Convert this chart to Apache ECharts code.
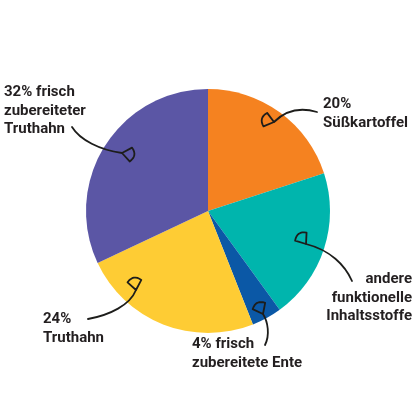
<!DOCTYPE html>
<html>
<head>
<meta charset="utf-8">
<script src="https://cdn.jsdelivr.net/npm/echarts@6/dist/echarts.min.js"></script>
<style>
    html, body { margin: 0; padding: 0; background: #fff; }
    #chart { width: 416px; height: 416px; }
</style>
</head>
<body>
<div id="chart"></div>
<script>
    // data
    var categories = ['20%\nSüßkartoffel', 'andere\nfunktionelle\nInhaltsstoffe', '4% frisch\nzubereitete Ente', '24%\nTruthahn', '32% frisch\nzubereiteter\nTruthahn'];
    var values = [20, 20, 4, 24, 32];
    var colors = ['#F58220', '#00B5AD', '#0B58A6', '#FECC34', '#5B56A5'];

    // label anchors [x, y, align]
    var labelPos = [[323, 95, 'left'], [412, 270, 'right'], [192, 335, 'left'], [43, 310, 'left'], [4, 83, 'left']];

    // hand drawn arrows: start, control 1, control 2, end, head direction (deg)
    var arrows = [
        [[317, 112], [300, 107], [285, 111], [274, 122], 195],
        [[352, 281], [345, 265], [330, 250], [306, 244], 235],
        [[265, 345], [270, 335], [268, 322], [263, 314], 243],
        [[88, 319], [110, 315], [130, 305], [136, 290], 260],
        [[72, 127], [80, 140], [100, 150], [122, 153], 10]
    ];

    // arrow head: apex at line end, fan opening forward with a rounded back
    function headPoints(e, deg) {
        var a = deg * Math.PI / 180;
        var dx = Math.cos(a), dy = Math.sin(a);
        var nx = -dy, ny = dx;
        var L = 9, W = 7;
        var b1 = [e[0] + dx * L + nx * W, e[1] + dy * L + ny * W];
        var b2 = [e[0] + dx * L - nx * W, e[1] + dy * L - ny * W];
        var c = [e[0] + dx * (L + 7), e[1] + dy * (L + 7)];
        var pts = [e.slice()];
        for (var i = 0; i <= 8; i++) {
            var t = i / 8;
            pts.push([
                (1 - t) * (1 - t) * b1[0] + 2 * t * (1 - t) * c[0] + t * t * b2[0],
                (1 - t) * (1 - t) * b1[1] + 2 * t * (1 - t) * c[1] + t * t * b2[1]
            ]);
        }
        pts.push(e.slice());
        return pts;
    }

    var graphics = [];
    arrows.forEach(function (ar) {
        graphics.push({
            type: 'bezierCurve',
            z: 100,
            shape: {x1: ar[0][0], y1: ar[0][1], cpx1: ar[1][0], cpy1: ar[1][1], cpx2: ar[2][0], cpy2: ar[2][1], x2: ar[3][0], y2: ar[3][1]},
            style: {stroke: '#1d1d1b', lineWidth: 1.8, fill: null, lineCap: 'round'}
        });
        graphics.push({
            type: 'polyline',
            z: 100,
            shape: {points: headPoints(ar[3], ar[4])},
            style: {stroke: '#1d1d1b', lineWidth: 1.8, fill: null, lineJoin: 'round'}
        });
    });

    // slice labels
    categories.forEach(function (c, i) {
        var p = labelPos[i];
        graphics.push({
            type: 'text',
            z: 100,
            x: p[0],
            y: p[1],
            style: {
                text: c,
                fill: '#231f20',
                fontFamily: 'Roboto',
                fontWeight: 'bold',
                fontSize: 15,
                lineHeight: 18.5,
                align: p[2],
                verticalAlign: 'top'
            }
        });
    });

    var chart = echarts.init(document.getElementById('chart'));
    var option = {
        animation: false,
        color: colors,
        graphic: graphics,
        series: [{
            type: 'pie',
            center: [208, 211],
            radius: 122,
            startAngle: 90,
            clockwise: true,
            silent: true,
            data: categories.map(function (c, i) {
                return {name: c, value: values[i]};
            }),
            label: {show: false},
            labelLine: {show: false}
        }]
    };
    chart.setOption(option);
</script>
</body>
</html>
